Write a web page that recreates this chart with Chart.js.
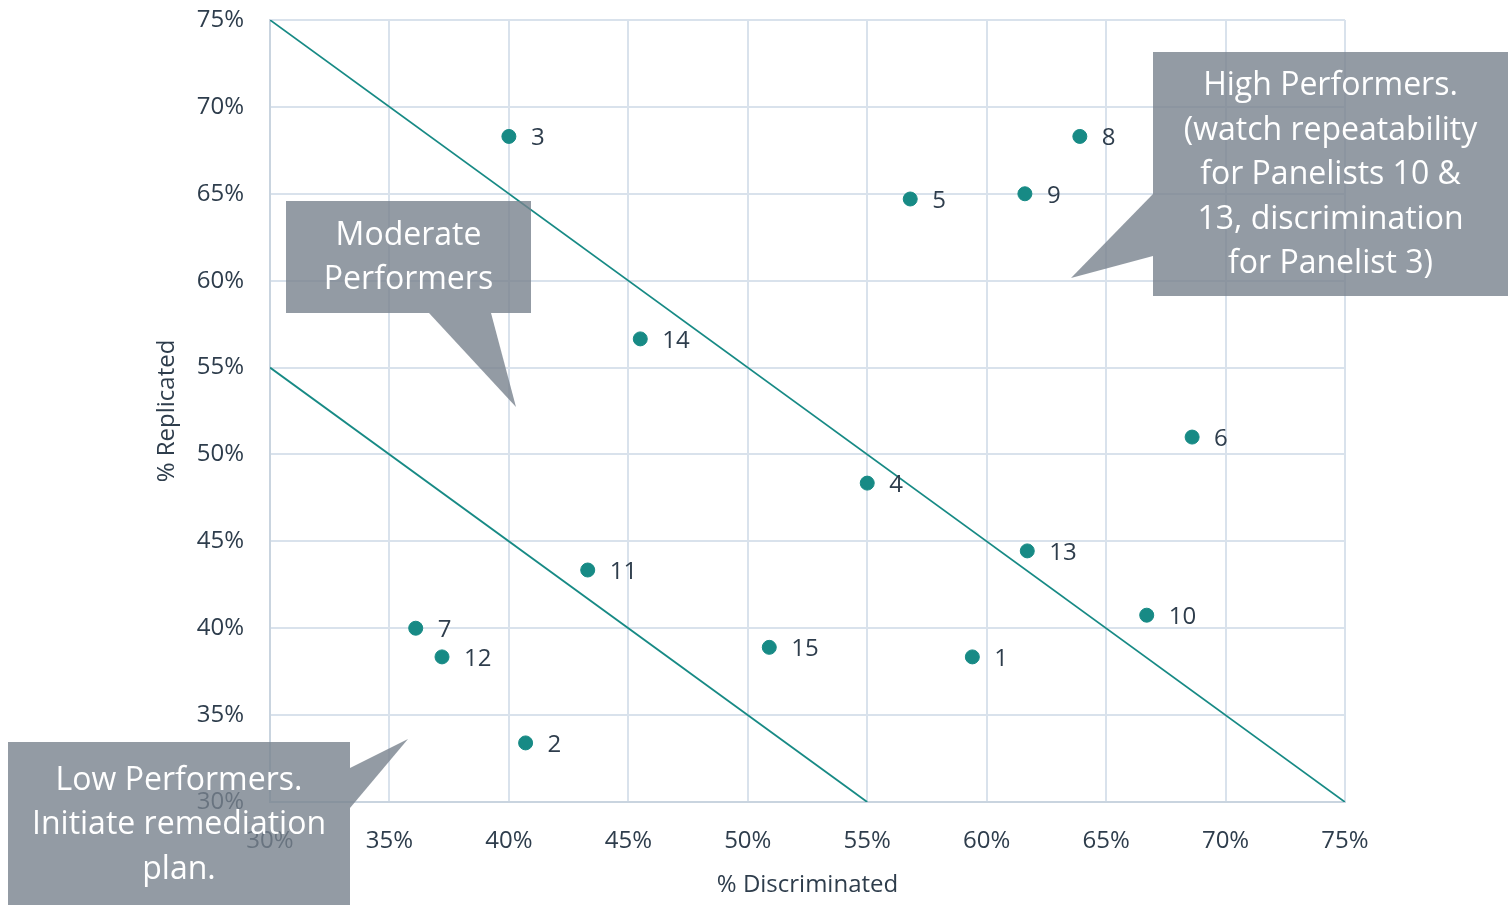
<!DOCTYPE html>
<html>
<head>
<meta charset="utf-8">
<script src="https://cdn.jsdelivr.net/npm/chart.js@4/dist/chart.umd.min.js"></script>
<style>
  html, body { margin: 0; padding: 0; background: #fff; }
  #wrap { width: 1512px; height: 907px; }
</style>
</head>
<body>
<div id="wrap"><canvas id="scatterChart"></canvas></div>
<script>
// panelist results (% discriminated, % replicated)
const panelists = ['1', '2', '3', '4', '5', '6', '7', '8', '9', '10', '11', '12', '13', '14', '15'];
const discriminated = [59.4, 40.7, 40.0, 55.0, 56.8, 68.6, 36.1, 63.9, 61.6, 66.7, 43.3, 37.2, 61.7, 45.5, 50.9];
const replicated = [38.35, 33.4, 68.3, 48.35, 64.7, 51.0, 40.0, 68.3, 65.0, 40.75, 43.35, 38.35, 44.45, 56.65, 38.9];

// boundary lines between performance groups
const upperLineX = [30, 75];
const upperLineY = [75, 30];
const lowerLineX = [30, 55];
const lowerLineY = [55, 30];

const tickFont = { family: 'Open Sans', size: 24 };
const titleFont = { family: 'Open Sans', size: 24 };
const teal = '#178a85';
const textColor = '#2e3d4c';

const pointLabels = {
    id: 'pointLabels',
    afterDatasetsDraw: chart => {
        const ctx = chart.ctx;
        const meta = chart.getDatasetMeta(0);
        ctx.save();
        ctx.font = '24px "Open Sans"';
        ctx.fillStyle = textColor;
        ctx.textAlign = 'left';
        ctx.textBaseline = 'middle';
        meta.data.forEach((pt, i) => {
            ctx.fillText(panelists[i], pt.x + 22, pt.y + 2);
        });
        ctx.restore();
    }
};

// grey callout boxes
const callouts = [
    { box: [286, 201, 531, 313], tail: [[429, 313], [516, 407], [491, 313]],
      lines: ['Moderate', 'Performers'], cy: 258 },
    { box: [1153, 52, 1508, 296], tail: [[1153, 194], [1071, 278], [1153, 256]],
      lines: ['High Performers.', '(watch repeatability', 'for Panelists 10 &', '13, discrimination', 'for Panelist 3)'], cy: 175 },
    { box: [8, 742, 350, 905], tail: [[350, 768], [408, 739], [350, 808]],
      lines: ['Low Performers.', 'Initiate remediation', 'plan.'], cy: 825 }
];

const calloutPlugin = {
    id: 'callouts',
    afterDraw: chart => {
        const ctx = chart.ctx;
        ctx.save();
        callouts.forEach(c => {
            const [x1, y1, x2, y2] = c.box;
            ctx.fillStyle = 'rgba(120,130,141,0.8)';
            ctx.beginPath();
            ctx.moveTo(x1, y1);
            ctx.lineTo(x2, y1);
            ctx.lineTo(x2, y2);
            ctx.lineTo(x1, y2);
            ctx.closePath();
            ctx.fill();
            ctx.beginPath();
            ctx.moveTo(c.tail[0][0], c.tail[0][1]);
            ctx.lineTo(c.tail[1][0], c.tail[1][1]);
            ctx.lineTo(c.tail[2][0], c.tail[2][1]);
            ctx.closePath();
            ctx.fill();
            ctx.fillStyle = '#ffffff';
            ctx.font = '32px "Open Sans"';
            ctx.textAlign = 'center';
            ctx.textBaseline = 'middle';
            const lh = 44.5;
            const cx = (x1 + x2) / 2;
            c.lines.forEach((t, i) => {
                ctx.fillText(t, cx, c.cy + (i - (c.lines.length - 1) / 2) * lh);
            });
        });
        ctx.restore();
    }
};

const dataScatter = {
    datasets: [{
        label: 'Panelists',
        data: discriminated.map((x, i) => ({ x: x, y: replicated[i] })),
        backgroundColor: teal,
        borderColor: teal,
        pointRadius: 7,
        pointHoverRadius: 7
    }, {
        label: 'Upper boundary',
        type: 'line',
        data: upperLineX.map((x, i) => ({ x: x, y: upperLineY[i] })),
        borderColor: teal,
        borderWidth: 1.8,
        pointRadius: 0,
        fill: false
    }, {
        label: 'Lower boundary',
        type: 'line',
        data: lowerLineX.map((x, i) => ({ x: x, y: lowerLineY[i] })),
        borderColor: teal,
        borderWidth: 1.8,
        pointRadius: 0,
        fill: false
    }]
};

const configScatter = {
    type: 'scatter',
    data: dataScatter,
    plugins: [pointLabels, calloutPlugin],
    options: {
        responsive: true,
        maintainAspectRatio: false,
        animation: false,
        layout: { padding: { top: 20, right: 167, left: 149, bottom: 0 } },
        plugins: {
            legend: { display: false },
            tooltip: { enabled: false }
        },
        scales: {
            x: {
                type: 'linear',
                min: 30,
                max: 75,
                afterFit: scale => {
                    scale.height = 105;
                    scale.paddingLeft = 0;
                    scale.paddingRight = 0;
                },
                ticks: {
                    stepSize: 5,
                    color: textColor,
                    font: tickFont,
                    padding: 25,
                    callback: v => v + '%'
                },
                grid: { color: '#d9e2ec', lineWidth: 2, drawTicks: false },
                border: { color: '#c9d4df', width: 2 },
                title: {
                    display: true,
                    text: '% Discriminated',
                    color: textColor,
                    font: titleFont,
                    padding: { top: 4, bottom: 7 }
                }
            },
            y: {
                type: 'linear',
                min: 30,
                max: 75,
                afterFit: scale => {
                    scale.width = 121;
                    scale.paddingTop = 0;
                    scale.paddingBottom = 0;
                },
                ticks: {
                    stepSize: 5,
                    color: textColor,
                    font: tickFont,
                    padding: 26,
                    callback: v => v + '%'
                },
                grid: { color: '#d9e2ec', lineWidth: 2, drawTicks: false },
                border: { color: '#c9d4df', width: 2 },
                title: {
                    display: true,
                    text: '% Replicated',
                    color: textColor,
                    font: titleFont,
                    padding: { top: 4, bottom: 0 }
                }
            }
        }
    }
};

new Chart(
    document.getElementById('scatterChart'),
    configScatter
);
</script>
</body>
</html>
